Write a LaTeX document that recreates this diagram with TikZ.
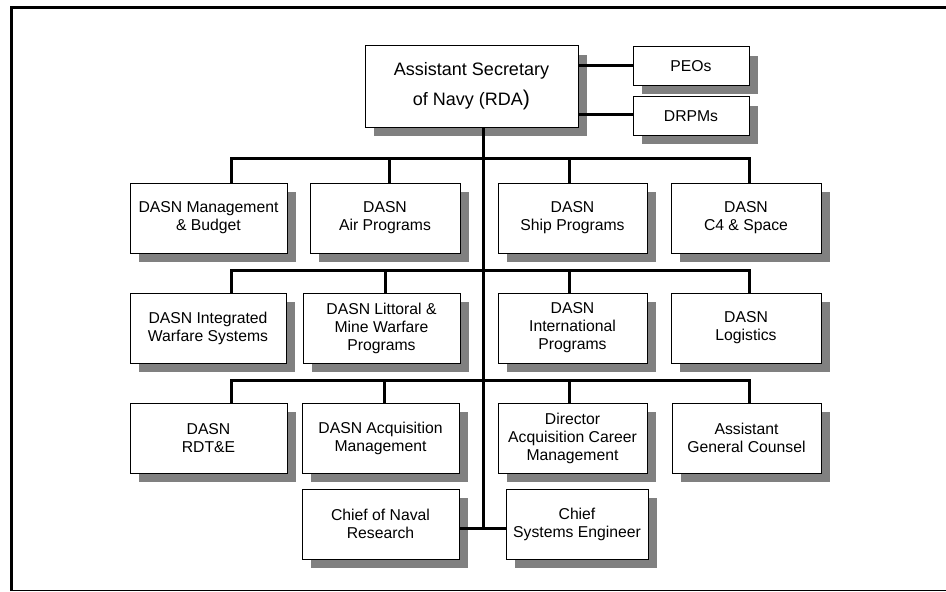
\documentclass[tikz,border=0pt]{standalone}
\usepackage{fontspec}
\setmainfont{Liberation Sans}
\usetikzlibrary{shadows}

\tikzset{
  orgbox/.style={draw, line width=0.75pt, fill=white, align=center, inner sep=1pt,
    minimum width={#1*0.75pt}, minimum height=52.5pt,
    font=\fontsize{11.8}{13.5}\selectfont,
    drop shadow={shadow xshift=6.5pt, shadow yshift=-6.75pt, opacity=1, fill=black!50}},
  orgbox/.default=150,
  wire/.style={line width=2.25pt},
  frameline/.style={line width=2.25pt},
}

\begin{document}
\begin{tikzpicture}[x=0.75pt, y=-0.75pt]
\useasboundingbox (0,0) rectangle (946,592);

% frame
\draw[frameline] (11,591) -- (11,7.5) -- (960,7.5);
\draw[line width=1.1pt] (11,590.5) -- (960,590.5);

% top
\node[orgbox=213, minimum height=60.75pt, font=\fontsize{13.5}{22.5}\selectfont] (asn) at (471.5,86.5)
  {Assistant Secretary\\of Navy (RDA{\fontsize{16}{16}\selectfont)}};
\node[orgbox=116, minimum height=29pt] (peo) at (691,66) {PEOs};
\node[orgbox=116, minimum height=29pt] (drpm) at (691,116) {DRPMs};

% row 1
\node[orgbox=157] (mb)   at (208.5,218) {DASN Management\\\& Budget};
\node[orgbox=150] (air)  at (385,218)   {DASN\\Air Programs};
\node[orgbox=149] (ship) at (572.5,218) {DASN\\Ship Programs};
\node[orgbox=150] (cfour) at (746,218)  {DASN\\C4 \& Space};

% row 2
\node[orgbox=156] (iws)  at (208,328)   {DASN Integrated\\Warfare Systems};
\node[orgbox=157] (lmw)  at (381.5,328) {DASN Littoral \&\\Mine Warfare\\Programs};
\node[orgbox=149] (intl) at (572.5,328) {DASN\\International\\Programs};
\node[orgbox=150] (log)  at (746,328)   {DASN\\Logistics};

% row 3
\node[orgbox=157] (rdte) at (208.5,438) {DASN\\RDT\&E};
\node[orgbox=157] (acq)  at (380.5,438) {DASN Acquisition\\Management};
\node[orgbox=149] (dacm) at (572.5,438) {Director\\Acquisition Career\\Management};
\node[orgbox=149] (agc)  at (746.5,438) {Assistant\\General Counsel};

% row 4
\node[orgbox=157] (cnr)  at (380.5,524) {Chief of Naval\\Research};
\node[orgbox=142] (cse)  at (577,524)   {Chief\\Systems Engineer};

% bus points
\coordinate (trunk) at (483,528);
\coordinate (bus1) at (483,158);
\coordinate (bus2) at (483,270);
\coordinate (bus3) at (483,380);

\draw[wire] (asn.south -| trunk) -- (trunk);
\draw[wire] (asn.east |- 0,66) -- (peo.west |- 0,66);
\draw[wire] (asn.east |- 0,114) -- (drpm.west |- 0,114);

\foreach \bus/\a/\b/\c/\d in {bus1/mb/air/ship/cfour, bus2/iws/lmw/intl/log, bus3/rdte/acq/dacm/agc}{
  \draw[wire] ([xshift=17.4pt]\a.north) |- (\bus) -| ([xshift=2.25pt]\d.north);
  \draw[wire] ([xshift=3pt]\b.north) -- ([xshift=3pt]\b.north |- \bus);
  \draw[wire] ([xshift=-2.6pt]\c.north) -- ([xshift=-2.6pt]\c.north |- \bus);
}

\draw[wire] (cnr.east |- trunk) -- (cse.west |- trunk);
\end{tikzpicture}
\end{document}
